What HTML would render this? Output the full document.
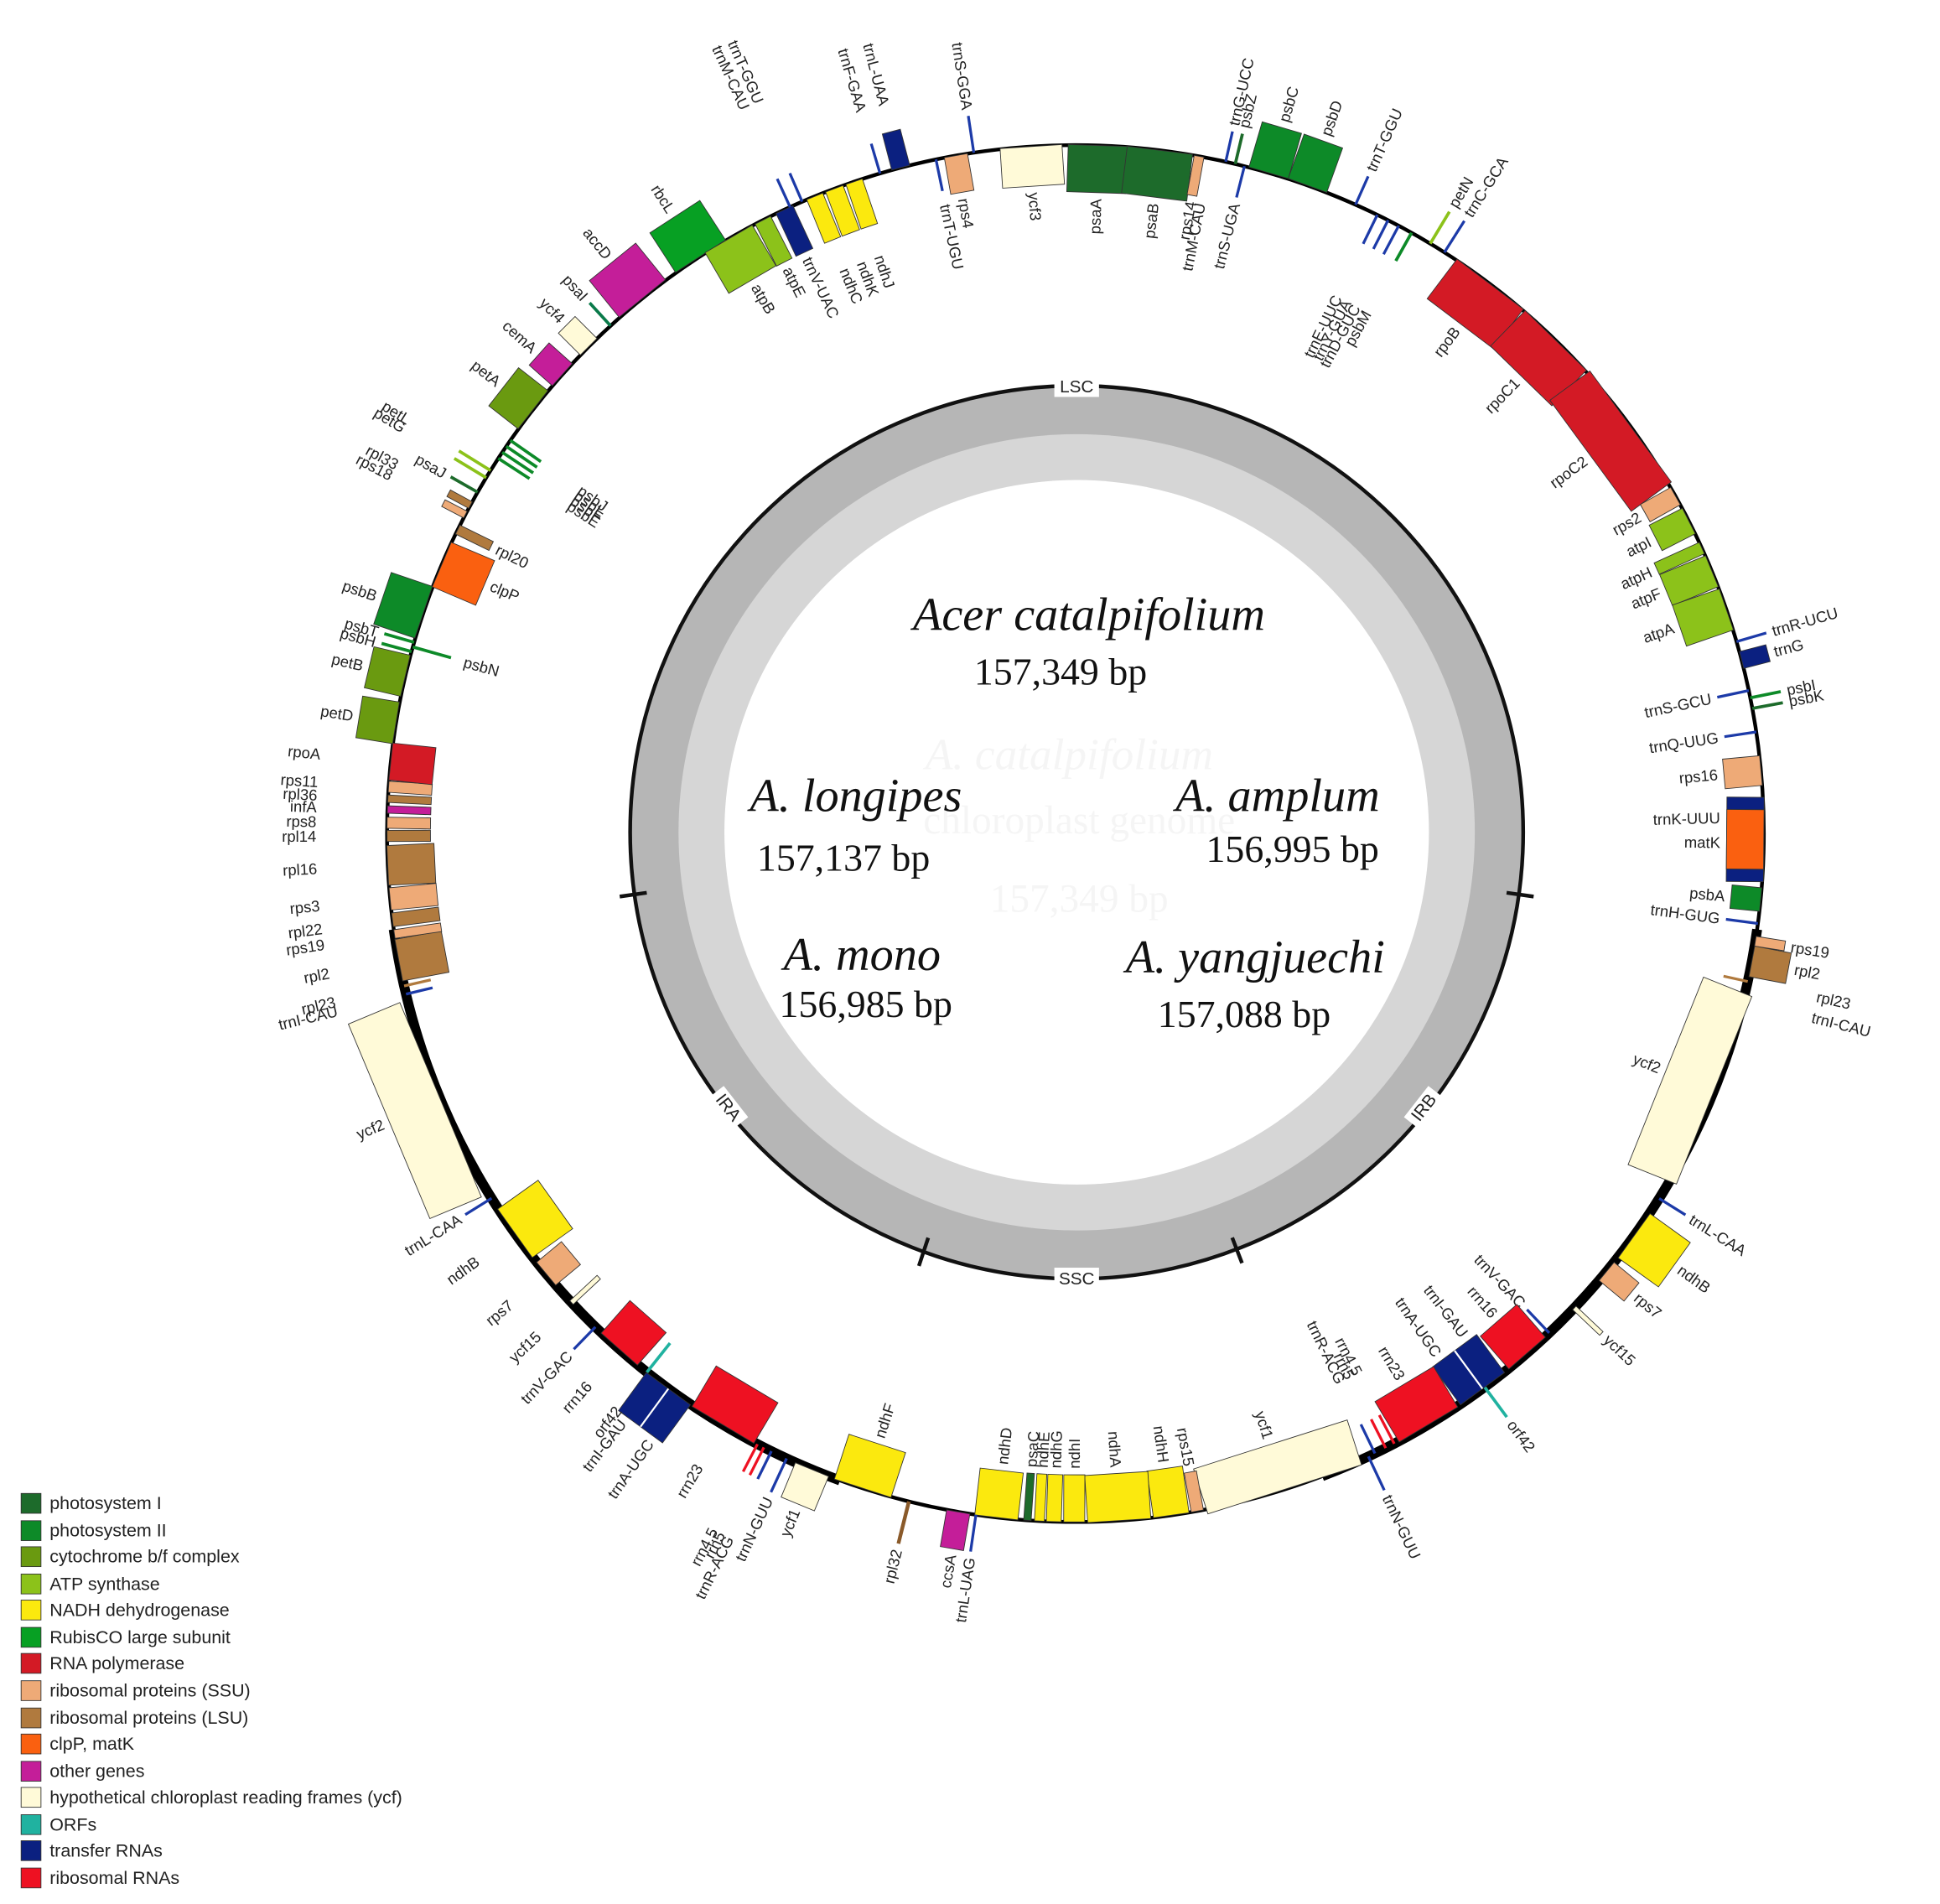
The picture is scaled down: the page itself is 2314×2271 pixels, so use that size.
<!DOCTYPE html>
<html><head><meta charset="utf-8"><style>
html,body{margin:0;padding:0;background:#fff}
svg{display:block}
.t{font-family:"Liberation Sans",sans-serif;font-size:12.5px;fill:#222;dominant-baseline:central}
.s{text-anchor:start}.e{text-anchor:end}
.b{stroke:#333;stroke-width:.6}
.big{font-family:"Liberation Serif",serif;font-style:italic;font-size:38px;fill:#111;text-anchor:middle}
.bp{font-family:"Liberation Serif",serif;font-size:31px;fill:#111;text-anchor:middle}
.lg{font-family:"Liberation Sans",sans-serif;font-size:14.5px;fill:#222;dominant-baseline:central}
</style></head><body>
<svg width="2314" height="2271" viewBox="0 0 1564 1535" xmlns="http://www.w3.org/2000/svg">
<rect width="1564" height="1535" fill="#fff"/>
<circle cx="868" cy="671" r="360" fill="#b6b6b6"/>
<circle cx="868" cy="671" r="321" fill="#d6d6d6"/>
<circle cx="868" cy="671" r="284" fill="#fff"/>
<circle cx="868" cy="671" r="360" fill="none" stroke="#111" stroke-width="3"/>
<g stroke="#111" stroke-width="3">
<line x1="1214.6" y1="719.7" x2="1236.4" y2="722.8"/>
<line x1="993.4" y1="997.8" x2="1001.3" y2="1018.3"/>
<line x1="748.3" y1="997.9" x2="740.8" y2="1020.6"/>
<line x1="521.4" y1="719.7" x2="499.6" y2="722.8"/>
</g>
<rect x="850" y="303" width="36" height="17" fill="#fff"/>
<text x="868" y="312" class="t" style="text-anchor:middle;font-size:14px">LSC</text>
<rect x="850" y="1022" width="36" height="17" fill="#fff"/>
<text x="868" y="1031" class="t" style="text-anchor:middle;font-size:14px">SSC</text>
<g transform="rotate(52 587 893)"><rect x="571" y="885" width="32" height="16" fill="#fff"/><text x="587" y="893" class="t" style="text-anchor:middle;font-size:14px">IRA</text></g>
<g transform="rotate(-52 1148 893)"><rect x="1132" y="885" width="32" height="16" fill="#fff"/><text x="1148" y="893" class="t" style="text-anchor:middle;font-size:14px">IRB</text></g>
<g fill="#f5f5f5" font-family="Liberation Serif,serif" text-anchor="middle">
<text x="862" y="620" font-size="36" font-style="italic">A. catalpifolium</text>
<text x="870" y="672" font-size="32">chloroplast genome</text>
<text x="870" y="735" font-size="32">157,349 bp</text>
</g>
<text x="878" y="508" class="big">Acer catalpifolium</text>
<text x="855" y="552" class="bp">157,349 bp</text>
<text x="690" y="654" class="big">A. longipes</text>
<text x="680" y="702" class="bp">157,137 bp</text>
<text x="1030" y="654" class="big">A. amplum</text>
<text x="1042" y="695" class="bp">156,995 bp</text>
<text x="695" y="782" class="big">A. mono</text>
<text x="698" y="820" class="bp">156,985 bp</text>
<text x="1012" y="784" class="big">A. yangjuechi</text>
<text x="1003" y="828" class="bp">157,088 bp</text>

<circle cx="867" cy="672" r="555" fill="none" stroke="#000" stroke-width="3"/>
<path d="M1416.6 749.3 A555 555 0 0 1 1065.9 1190.1" fill="none" stroke="#000" stroke-width="8"/>
<path d="M677.2 1193.5 A555 555 0 0 1 317.4 749.3" fill="none" stroke="#000" stroke-width="8"/>

<g transform="rotate(1.85 867 672)"><rect class="b" x="843.3" y="117" width="47.5" height="38" fill="#1d6b2b"/><text class="t e" x="867" y="160" transform="rotate(-90 867 160)">psaA</text></g>
<g transform="rotate(7.05 867 672)"><rect class="b" x="840.5" y="117" width="53" height="38" fill="#1d6b2b"/><text class="t e" x="867" y="160" transform="rotate(-90 867 160)">psaB</text></g>
<g transform="rotate(10.35 867 672)"><rect class="b" x="863" y="117" width="8" height="32" fill="#eeaa77"/><text class="t e" x="867" y="154" transform="rotate(-90 867 154)">rps14</text></g>
<g transform="rotate(11.2 867 672)"><text class="t e" x="867" y="154" transform="rotate(-90 867 154)">trnM-CAU</text></g>
<g transform="rotate(14.2 867 672)"><rect x="866" y="117" width="2.2" height="26" fill="#1c3aa8"/><text class="t e" x="867" y="148" transform="rotate(-90 867 148)">trnS-UGA</text></g>
<g transform="rotate(12.6 867 672)"><rect x="866" y="92" width="2.2" height="25" fill="#1c3aa8"/><text class="t s" x="867" y="87" transform="rotate(-90 867 87)">trnG-UCC</text></g>
<g transform="rotate(13.4 867 672)"><rect x="866" y="92" width="2.5" height="25" fill="#1d6b2b"/><text class="t s" x="867" y="87" transform="rotate(-90 867 87)">psbZ</text></g>
<g transform="rotate(16.3 867 672)"><rect class="b" x="850.5" y="79" width="33" height="38" fill="#0d8a28"/><text class="t s" x="867" y="74" transform="rotate(-90 867 74)">psbC</text></g>
<g transform="rotate(19.7 867 672)"><rect class="b" x="850.5" y="79" width="33" height="38" fill="#0d8a28"/><text class="t s" x="867" y="74" transform="rotate(-90 867 74)">psbD</text></g>
<g transform="rotate(24 867 672)"><rect x="866" y="92" width="2.2" height="25" fill="#1c3aa8"/><text class="t s" x="867" y="87" transform="rotate(-90 867 87)">trnT-GGU</text></g>
<g transform="rotate(26 867 672)"><rect x="866" y="117" width="2.2" height="26" fill="#1c3aa8"/><text class="t e" x="867" y="190" transform="rotate(-90 867 190)">trnE-UUC</text></g>
<g transform="rotate(27 867 672)"><rect x="866" y="117" width="2.2" height="26" fill="#1c3aa8"/><text class="t e" x="867" y="190" transform="rotate(-90 867 190)">trnY-GUA</text></g>
<g transform="rotate(28 867 672)"><rect x="866" y="117" width="2.2" height="26" fill="#1c3aa8"/><text class="t e" x="867" y="190" transform="rotate(-90 867 190)">trnD-GUC</text></g>
<g transform="rotate(29.2 867 672)"><rect x="866" y="117" width="2.5" height="26" fill="#0d8a28"/><text class="t e" x="867" y="190" transform="rotate(-90 867 190)">psbM</text></g>
<g transform="rotate(31 867 672)"><rect x="866" y="87" width="2.5" height="30" fill="#8cc21a"/><text class="t s" x="867" y="82" transform="rotate(-90 867 82)">petN</text></g>
<g transform="rotate(32.4 867 672)"><rect x="866" y="87" width="2.2" height="30" fill="#1c3aa8"/><text class="t s" x="867" y="82" transform="rotate(-90 867 82)">trnC-GCA</text></g>
<g transform="rotate(37.05 867 672)"><rect class="b" x="833.5" y="117" width="67" height="40" fill="#d31a25"/><text class="t e" x="867" y="162" transform="rotate(-90 867 162)">rpoB</text></g>
<g transform="rotate(44.25 867 672)"><rect class="b" x="832.5" y="117" width="69" height="40" fill="#d31a25"/><text class="t e" x="867" y="162" transform="rotate(-90 867 162)">rpoC1</text></g>
<g transform="rotate(53.75 867 672)"><rect class="b" x="811.5" y="117" width="111" height="40" fill="#d31a25"/><text class="t e" x="867" y="162" transform="rotate(-90 867 162)">rpoC2</text></g>
<g transform="rotate(60.65 867 672)"><rect class="b" x="859" y="117" width="16" height="28" fill="#eeaa77"/><text class="t e" x="867" y="150" transform="rotate(-90 867 150)">rps2</text></g>
<g transform="rotate(63 867 672)"><rect class="b" x="855.5" y="117" width="23" height="30" fill="#8cc21a"/><text class="t e" x="867" y="152" transform="rotate(-90 867 152)">atpI</text></g>
<g transform="rotate(65.5 867 672)"><rect class="b" x="862" y="117" width="10" height="40" fill="#8cc21a"/><text class="t e" x="867" y="162" transform="rotate(-90 867 162)">atpH</text></g>
<g transform="rotate(67.6 867 672)"><rect class="b" x="853.5" y="117" width="27" height="40" fill="#8cc21a"/><text class="t e" x="867" y="162" transform="rotate(-90 867 162)">atpF</text></g>
<g transform="rotate(71 867 672)"><rect class="b" x="849.5" y="117" width="35" height="40" fill="#8cc21a"/><text class="t e" x="867" y="162" transform="rotate(-90 867 162)">atpA</text></g>
<g transform="rotate(73.8 867 672)"><rect x="866" y="92" width="2.2" height="25" fill="#1c3aa8"/><text class="t s" x="867" y="87" transform="rotate(-90 867 87)">trnR-UCU</text></g>
<g transform="rotate(75.4 867 672)"><rect class="b" x="860" y="95" width="14" height="22" fill="#0b2080"/><text class="t s" x="867" y="90" transform="rotate(-90 867 90)">trnG</text></g>
<g transform="rotate(78 867 672)"><rect x="866" y="117" width="2.2" height="26" fill="#1c3aa8"/><text class="t e" x="867" y="148" transform="rotate(-90 867 148)">trnS-GCU</text></g>
<g transform="rotate(78.6 867 672)"><rect x="866" y="92" width="2.5" height="25" fill="#0d8a28"/><text class="t s" x="867" y="87" transform="rotate(-90 867 87)">psbI</text></g>
<g transform="rotate(79.5 867 672)"><rect x="866" y="92" width="2.5" height="25" fill="#1d6b2b"/><text class="t s" x="867" y="87" transform="rotate(-90 867 87)">psbK</text></g>
<g transform="rotate(81.5 867 672)"><rect x="866" y="117" width="2.2" height="26" fill="#1c3aa8"/><text class="t e" x="867" y="148" transform="rotate(-90 867 148)">trnQ-UUG</text></g>
<g transform="rotate(84.75 867 672)"><rect class="b" x="855" y="117" width="24" height="30" fill="#eeaa77"/><text class="t e" x="867" y="152" transform="rotate(-90 867 152)">rps16</text></g>
<g transform="rotate(90.5 867 672)"><rect class="b" x="833" y="117" width="68" height="30" fill="#0b2080"/><rect class="b" x="843" y="117" width="48" height="30" fill="#fa6010"/></g>
<g transform="rotate(88.6 867 672)"><text class="t e" x="867" y="152" transform="rotate(-90 867 152)">trnK-UUU</text></g>
<g transform="rotate(90.8 867 672)"><text class="t e" x="867" y="152" transform="rotate(-90 867 152)">matK</text></g>
<g transform="rotate(95.5 867 672)"><rect class="b" x="857.5" y="117" width="19" height="24" fill="#0d8a28"/><text class="t e" x="867" y="146" transform="rotate(-90 867 146)">psbA</text></g>
<g transform="rotate(97.5 867 672)"><rect x="866" y="117" width="2.2" height="26" fill="#1c3aa8"/><text class="t e" x="867" y="148" transform="rotate(-90 867 148)">trnH-GUG</text></g>
<g transform="rotate(99 867 672)"><rect class="b" x="863" y="93" width="8" height="24" fill="#eeaa77"/><text class="t s" x="867" y="88" transform="rotate(-90 867 88)">rps19</text></g>
<g transform="rotate(100.7 867 672)"><rect class="b" x="854.5" y="87" width="25" height="30" fill="#b07a3e"/><text class="t s" x="867" y="82" transform="rotate(-90 867 82)">rpl2</text></g>
<g transform="rotate(102.4 867 672)"><rect x="866" y="117" width="2.2" height="20" fill="#b07a3e"/><text class="t s" x="867" y="60" transform="rotate(-90 867 60)">rpl23</text></g>
<g transform="rotate(104 867 672)"><rect x="866" y="117" width="2.2" height="20" fill="#1c3aa8"/><text class="t s" x="867" y="60" transform="rotate(-90 867 60)">trnI-CAU</text></g>
<g transform="rotate(111.9 867 672)"><rect class="b" x="785.5" y="117" width="163" height="42" fill="#fffad8"/><text class="t e" x="867" y="164" transform="rotate(-90 867 164)">ycf2</text></g>
<g transform="rotate(122 867 672)"><rect x="866" y="92" width="2.2" height="25" fill="#1c3aa8"/><text class="t s" x="867" y="87" transform="rotate(-90 867 87)">trnL-CAA</text></g>
<g transform="rotate(125.75 867 672)"><rect class="b" x="845" y="77" width="44" height="40" fill="#fbe90e"/><text class="t s" x="867" y="72" transform="rotate(-90 867 72)">ndhB</text></g>
<g transform="rotate(129.5 867 672)"><rect class="b" x="857.5" y="91" width="19" height="26" fill="#eeaa77"/><text class="t s" x="867" y="86" transform="rotate(-90 867 86)">rps7</text></g>
<g transform="rotate(133.5 867 672)"><rect class="b" x="865.5" y="87" width="4" height="30" fill="#fffad8"/><text class="t s" x="867" y="82" transform="rotate(-90 867 82)">ycf15</text></g>
<g transform="rotate(136.5 867 672)"><rect x="866" y="117" width="2.2" height="26" fill="#1c3aa8"/><text class="t e" x="867" y="148" transform="rotate(-90 867 148)">trnV-GAC</text></g>
<g transform="rotate(139 867 672)"><rect class="b" x="847.5" y="117" width="39" height="35" fill="#ee1122"/><text class="t e" x="867" y="157" transform="rotate(-90 867 157)">rrn16</text></g>
<g transform="rotate(143.5 867 672)"><rect x="866" y="87" width="2.5" height="30" fill="#20b2a0"/><text class="t s" x="867" y="82" transform="rotate(-90 867 82)">orf42</text></g>
<g transform="rotate(143.75 867 672)"><rect class="b" x="845" y="117" width="44" height="38" fill="#0b2080"/><line x1="867" y1="117" x2="867" y2="155" stroke="#fff" stroke-width="1.5"/></g>
<g transform="rotate(142.2 867 672)"><text class="t e" x="867" y="160" transform="rotate(-90 867 160)">trnI-GAU</text></g>
<g transform="rotate(145.2 867 672)"><text class="t e" x="867" y="160" transform="rotate(-90 867 160)">trnA-UGC</text></g>
<g transform="rotate(149.15 867 672)"><rect class="b" x="839.5" y="117" width="55" height="38" fill="#ee1122"/><text class="t e" x="867" y="160" transform="rotate(-90 867 160)">rrn23</text></g>
<g transform="rotate(152.4 867 672)"><rect x="866" y="117" width="2.2" height="26" fill="#ee1122"/><text class="t e" x="867" y="180" transform="rotate(-90 867 180)">rrn4.5</text></g>
<g transform="rotate(153.2 867 672)"><rect x="866" y="117" width="2.2" height="26" fill="#ee1122"/><text class="t e" x="867" y="180" transform="rotate(-90 867 180)">rrn5</text></g>
<g transform="rotate(154.2 867 672)"><rect x="866" y="117" width="2.2" height="26" fill="#1c3aa8"/><text class="t e" x="867" y="180" transform="rotate(-90 867 180)">trnR-ACG</text></g>
<g transform="rotate(154.8 867 672)"><rect x="866" y="87" width="2.2" height="30" fill="#1c3aa8"/><text class="t s" x="867" y="82" transform="rotate(-90 867 82)">trnN-GUU</text></g>
<g transform="rotate(162.3 867 672)"><rect class="b" x="802" y="117" width="130" height="38" fill="#fffad8"/><text class="t e" x="867" y="160" transform="rotate(-90 867 160)">ycf1</text></g>
<g transform="rotate(169.8 867 672)"><rect class="b" x="862" y="117" width="10" height="32" fill="#eeaa77"/><text class="t e" x="867" y="154" transform="rotate(-90 867 154)">rps15</text></g>
<g transform="rotate(172 867 672)"><rect class="b" x="852.5" y="117" width="29" height="38" fill="#fbe90e"/><text class="t e" x="867" y="160" transform="rotate(-90 867 160)">ndhH</text></g>
<g transform="rotate(176.35 867 672)"><rect class="b" x="841.5" y="117" width="51" height="38" fill="#fbe90e"/><text class="t e" x="867" y="160" transform="rotate(-90 867 160)">ndhA</text></g>
<g transform="rotate(180.1 867 672)"><rect class="b" x="858.5" y="117" width="17" height="38" fill="#fbe90e"/><text class="t s" x="867" y="160" transform="rotate(90 867 160)">ndhI</text></g>

<g transform="rotate(181.8 867 672)"><rect class="b" x="861" y="117" width="12" height="38" fill="#fbe90e"/><text class="t s" x="867" y="160" transform="rotate(90 867 160)">ndhG</text></g>
<g transform="rotate(183 867 672)"><rect class="b" x="863" y="117" width="8" height="38" fill="#fbe90e"/><text class="t s" x="867" y="160" transform="rotate(90 867 160)">ndhE</text></g>
<g transform="rotate(184 867 672)"><rect class="b" x="864" y="117" width="6" height="38" fill="#1d6b2b"/><text class="t s" x="867" y="160" transform="rotate(90 867 160)">psaC</text></g>
<g transform="rotate(186.6 867 672)"><rect class="b" x="849.5" y="117" width="35" height="38" fill="#fbe90e"/><text class="t s" x="867" y="160" transform="rotate(90 867 160)">ndhD</text></g>
<g transform="rotate(188.3 867 672)"><rect x="866" y="87" width="2.2" height="30" fill="#1c3aa8"/><text class="t e" x="867" y="82" transform="rotate(90 867 82)">trnL-UAG</text></g>
<g transform="rotate(189.8 867 672)"><rect class="b" x="857.5" y="87" width="19" height="30" fill="#c41e99"/><text class="t e" x="867" y="82" transform="rotate(90 867 82)">ccsA</text></g>
<g transform="rotate(194 867 672)"><rect x="865.5" y="82" width="3" height="35" fill="#8a5a2a"/><text class="t e" x="867" y="77" transform="rotate(90 867 77)">rpl32</text></g>
<g transform="rotate(198 867 672)"><rect class="b" x="843" y="117" width="48" height="38" fill="#fbe90e"/><text class="t s" x="867" y="160" transform="rotate(90 867 160)">ndhF</text></g>
<g transform="rotate(202.5 867 672)"><rect class="b" x="852.5" y="87" width="29" height="30" fill="#fffad8"/><text class="t e" x="867" y="82" transform="rotate(90 867 82)">ycf1</text></g>
<g transform="rotate(204.8 867 672)"><rect x="866" y="87" width="2.2" height="30" fill="#1c3aa8"/><text class="t e" x="867" y="82" transform="rotate(90 867 82)">trnN-GUU</text></g>
<g transform="rotate(206.2 867 672)"><rect x="866" y="92" width="2.2" height="25" fill="#1c3aa8"/><text class="t e" x="867" y="40" transform="rotate(90 867 40)">trnR-ACG</text></g>
<g transform="rotate(206.9 867 672)"><rect x="866" y="92" width="2.2" height="25" fill="#ee1122"/><text class="t e" x="867" y="40" transform="rotate(90 867 40)">rrn5</text></g>
<g transform="rotate(207.5 867 672)"><rect x="866" y="92" width="2.2" height="25" fill="#ee1122"/><text class="t e" x="867" y="40" transform="rotate(90 867 40)">rrn4.5</text></g>
<g transform="rotate(210.8 867 672)"><rect class="b" x="838" y="117" width="58" height="38" fill="#ee1122"/><text class="t e" x="867" y="79" transform="rotate(90 867 79)">rrn23</text></g>
<g transform="rotate(216.25 867 672)"><rect class="b" x="845" y="79" width="44" height="38" fill="#0b2080"/><line x1="867" y1="79" x2="867" y2="117" stroke="#fff" stroke-width="1.5"/></g>
<g transform="rotate(215 867 672)"><text class="t e" x="867" y="74" transform="rotate(90 867 74)">trnA-UGC</text></g>
<g transform="rotate(217.6 867 672)"><text class="t e" x="867" y="74" transform="rotate(90 867 74)">trnI-GAU</text></g>
<g transform="rotate(218.5 867 672)"><rect x="865.8" y="117" width="2.5" height="30" fill="#20b2a0"/><text class="t e" x="867" y="80" transform="rotate(90 867 80)">orf42</text></g>
<g transform="rotate(221.5 867 672)"><rect class="b" x="847.5" y="117" width="39" height="35" fill="#ee1122"/><text class="t e" x="867" y="80" transform="rotate(90 867 80)">rrn16</text></g>
<g transform="rotate(224.2 867 672)"><rect x="866" y="92" width="2.2" height="25" fill="#1c3aa8"/><text class="t e" x="867" y="87" transform="rotate(90 867 87)">trnV-GAC</text></g>
<g transform="rotate(227 867 672)"><rect class="b" x="865.5" y="117" width="4" height="30" fill="#fffad8"/><text class="t e" x="867" y="80" transform="rotate(90 867 80)">ycf15</text></g>
<g transform="rotate(230.25 867 672)"><rect class="b" x="855" y="117" width="24" height="26" fill="#eeaa77"/><text class="t e" x="867" y="80" transform="rotate(90 867 80)">rps7</text></g>
<g transform="rotate(234.5 867 672)"><rect class="b" x="843" y="117" width="48" height="40" fill="#fbe90e"/><text class="t e" x="867" y="80" transform="rotate(90 867 80)">ndhB</text></g>
<g transform="rotate(238 867 672)"><rect x="866" y="92" width="2.2" height="25" fill="#1c3aa8"/><text class="t e" x="867" y="87" transform="rotate(90 867 87)">trnL-CAA</text></g>
<g transform="rotate(247.25 867 672)"><rect class="b" x="782" y="72" width="170" height="45" fill="#fffad8"/><text class="t e" x="867" y="67" transform="rotate(90 867 67)">ycf2</text></g>
<g transform="rotate(256.5 867 672)"><rect x="866" y="117" width="2.2" height="22" fill="#1c3aa8"/><text class="t e" x="867" y="60" transform="rotate(90 867 60)">trnI-CAU</text></g>
<g transform="rotate(257.2 867 672)"><rect x="866" y="117" width="2.2" height="22" fill="#b07a3e"/><text class="t e" x="867" y="60" transform="rotate(90 867 60)">rpl23</text></g>
<g transform="rotate(259.4 867 672)"><rect class="b" x="850" y="117" width="34" height="38" fill="#b07a3e"/><text class="t e" x="867" y="60" transform="rotate(90 867 60)">rpl2</text></g>
<g transform="rotate(261.6 867 672)"><rect class="b" x="863.5" y="117" width="7" height="38" fill="#eeaa77"/><text class="t e" x="867" y="60" transform="rotate(90 867 60)">rps19</text></g>
<g transform="rotate(262.8 867 672)"><rect class="b" x="861.5" y="117" width="11" height="38" fill="#b07a3e"/><text class="t e" x="867" y="60" transform="rotate(90 867 60)">rpl22</text></g>
<g transform="rotate(264.55 867 672)"><rect class="b" x="858" y="117" width="18" height="38" fill="#eeaa77"/><text class="t e" x="867" y="60" transform="rotate(90 867 60)">rps3</text></g>
<g transform="rotate(267.35 867 672)"><rect class="b" x="851" y="117" width="32" height="38" fill="#b07a3e"/><text class="t e" x="867" y="60" transform="rotate(90 867 60)">rpl16</text></g>
<g transform="rotate(269.8 867 672)"><rect class="b" x="862.5" y="117" width="9" height="35" fill="#b07a3e"/><text class="t e" x="867" y="60" transform="rotate(90 867 60)">rpl14</text></g>
<g transform="rotate(270.9 867 672)"><rect class="b" x="862.5" y="117" width="9" height="35" fill="#eeaa77"/><text class="t e" x="867" y="60" transform="rotate(90 867 60)">rps8</text></g>
<g transform="rotate(272 867 672)"><rect class="b" x="864" y="117" width="6" height="35" fill="#c41e99"/><text class="t e" x="867" y="60" transform="rotate(90 867 60)">infA</text></g>
<g transform="rotate(272.9 867 672)"><rect class="b" x="864" y="117" width="6" height="35" fill="#b07a3e"/><text class="t e" x="867" y="60" transform="rotate(90 867 60)">rpl36</text></g>
<g transform="rotate(273.9 867 672)"><rect class="b" x="862.5" y="117" width="9" height="35" fill="#eeaa77"/><text class="t e" x="867" y="60" transform="rotate(90 867 60)">rps11</text></g>
<g transform="rotate(276 867 672)"><rect class="b" x="852" y="117" width="30" height="35" fill="#d31a25"/><text class="t e" x="867" y="60" transform="rotate(90 867 60)">rpoA</text></g>
<g transform="rotate(279.25 867 672)"><rect class="b" x="850" y="87" width="34" height="30" fill="#6a9a10"/><text class="t e" x="867" y="82" transform="rotate(90 867 82)">petD</text></g>
<g transform="rotate(283.25 867 672)"><rect class="b" x="850" y="87" width="34" height="30" fill="#6a9a10"/><text class="t e" x="867" y="82" transform="rotate(90 867 82)">petB</text></g>
<g transform="rotate(285.3 867 672)"><rect x="866" y="92" width="2.5" height="25" fill="#0d8a28"/><text class="t e" x="867" y="87" transform="rotate(90 867 87)">psbH</text></g>
<g transform="rotate(286.1 867 672)"><rect x="866" y="92" width="2.5" height="25" fill="#0d8a28"/><text class="t e" x="867" y="87" transform="rotate(90 867 87)">psbT</text></g>
<g transform="rotate(285.7 867 672)"><rect x="866" y="117" width="2.5" height="32" fill="#0d8a28"/><text class="t s" x="867" y="160" transform="rotate(90 867 160)">psbN</text></g>
<g transform="rotate(288.75 867 672)"><rect class="b" x="845" y="82" width="44" height="35" fill="#0d8a28"/><text class="t e" x="867" y="77" transform="rotate(90 867 77)">psbB</text></g>
<g transform="rotate(293 867 672)"><rect class="b" x="847.5" y="117" width="39" height="38" fill="#fa6010"/><text class="t s" x="867" y="160" transform="rotate(90 867 160)">clpP</text></g>
<g transform="rotate(296.2 867 672)"><rect class="b" x="863" y="117" width="8" height="30" fill="#b07a3e"/><text class="t s" x="867" y="152" transform="rotate(90 867 152)">rpl20</text></g>
<g transform="rotate(297.6 867 672)"><rect class="b" x="864" y="97" width="6" height="20" fill="#eeaa77"/><text class="t e" x="867" y="50" transform="rotate(90 867 50)">rps18</text></g>
<g transform="rotate(298.5 867 672)"><rect class="b" x="864" y="97" width="6" height="20" fill="#b07a3e"/><text class="t e" x="867" y="50" transform="rotate(90 867 50)">rpl33</text></g>
<g transform="rotate(299.7 867 672)"><rect x="866" y="92" width="2.5" height="25" fill="#1d6b2b"/><text class="t e" x="867" y="87" transform="rotate(90 867 87)">psaJ</text></g>
<g transform="rotate(301.1 867 672)"><rect x="866" y="87" width="2.5" height="30" fill="#8cc21a"/><text class="t e" x="867" y="40" transform="rotate(90 867 40)">petG</text></g>
<g transform="rotate(301.8 867 672)"><rect x="866" y="87" width="2.5" height="30" fill="#8cc21a"/><text class="t e" x="867" y="40" transform="rotate(90 867 40)">petL</text></g>
<g transform="rotate(303 867 672)"><rect x="866" y="117" width="2.5" height="30" fill="#0d8a28"/><text class="t s" x="867" y="185" transform="rotate(90 867 185)">psbE</text></g>
<g transform="rotate(303.6 867 672)"><rect x="866" y="117" width="2.5" height="30" fill="#0d8a28"/><text class="t s" x="867" y="185" transform="rotate(90 867 185)">psbF</text></g>
<g transform="rotate(304.2 867 672)"><rect x="866" y="117" width="2.5" height="30" fill="#0d8a28"/><text class="t s" x="867" y="185" transform="rotate(90 867 185)">psbL</text></g>
<g transform="rotate(304.8 867 672)"><rect x="866" y="117" width="2.5" height="30" fill="#0d8a28"/><text class="t s" x="867" y="185" transform="rotate(90 867 185)">psbJ</text></g>
<g transform="rotate(308 867 672)"><rect class="b" x="847.5" y="87" width="39" height="30" fill="#6a9a10"/><text class="t e" x="867" y="82" transform="rotate(90 867 82)">petA</text></g>
<g transform="rotate(311.8 867 672)"><rect class="b" x="855" y="92" width="24" height="25" fill="#c41e99"/><text class="t e" x="867" y="87" transform="rotate(90 867 87)">cemA</text></g>
<g transform="rotate(315 867 672)"><rect class="b" x="857.5" y="92" width="19" height="25" fill="#fffad8"/><text class="t e" x="867" y="87" transform="rotate(90 867 87)">ycf4</text></g>
<g transform="rotate(317.5 867 672)"><rect x="866" y="92" width="2.5" height="25" fill="#0a7a4a"/><text class="t e" x="867" y="87" transform="rotate(90 867 87)">psaI</text></g>
<g transform="rotate(321 867 672)"><rect class="b" x="843" y="79" width="48" height="38" fill="#c41e99"/><text class="t e" x="867" y="74" transform="rotate(90 867 74)">accD</text></g>
<g transform="rotate(327 867 672)"><rect class="b" x="843" y="79" width="48" height="38" fill="#07a023"/><text class="t e" x="867" y="74" transform="rotate(90 867 74)">rbcL</text></g>
<g transform="rotate(329.75 867 672)"><rect class="b" x="845" y="117" width="44" height="38" fill="#8cc21a"/><text class="t s" x="867" y="160" transform="rotate(90 867 160)">atpB</text></g>
<g transform="rotate(333 867 672)"><rect class="b" x="860" y="117" width="14" height="38" fill="#8cc21a"/><text class="t s" x="867" y="160" transform="rotate(90 867 160)">atpE</text></g>
<g transform="rotate(335 867 672)"><rect class="b" x="859.5" y="117" width="15" height="38" fill="#0b2080"/><text class="t s" x="867" y="160" transform="rotate(90 867 160)">trnV-UAC</text></g>
<g transform="rotate(335.5 867 672)"><rect x="866" y="92" width="2.2" height="25" fill="#1c3aa8"/><text class="t e" x="867" y="30" transform="rotate(90 867 30)">trnM-CAU</text></g>
<g transform="rotate(336.6 867 672)"><rect x="866" y="92" width="2.2" height="25" fill="#1c3aa8"/><text class="t e" x="867" y="30" transform="rotate(90 867 30)">trnT-GGU</text></g>
<g transform="rotate(337.75 867 672)"><rect class="b" x="860" y="117" width="14" height="38" fill="#fbe90e"/><text class="t s" x="867" y="180" transform="rotate(90 867 180)">ndhC</text></g>
<g transform="rotate(339.5 867 672)"><rect class="b" x="859.5" y="117" width="15" height="38" fill="#fbe90e"/><text class="t s" x="867" y="180" transform="rotate(90 867 180)">ndhK</text></g>
<g transform="rotate(341.25 867 672)"><rect class="b" x="860" y="117" width="14" height="38" fill="#fbe90e"/><text class="t s" x="867" y="180" transform="rotate(90 867 180)">ndhJ</text></g>
<g transform="rotate(343.5 867 672)"><rect x="866" y="92" width="2.2" height="25" fill="#1c3aa8"/><text class="t e" x="867" y="65" transform="rotate(90 867 65)">trnF-GAA</text></g>
<g transform="rotate(345.3 867 672)"><rect class="b" x="859.5" y="87" width="15" height="30" fill="#0b2080"/><text class="t e" x="867" y="65" transform="rotate(90 867 65)">trnL-UAA</text></g>
<g transform="rotate(348.3 867 672)"><rect x="866" y="117" width="2.2" height="26" fill="#1c3aa8"/><text class="t s" x="867" y="154" transform="rotate(90 867 154)">trnT-UGU</text></g>
<g transform="rotate(350 867 672)"><rect class="b" x="857.5" y="117" width="19" height="30" fill="#eeaa77"/><text class="t s" x="867" y="152" transform="rotate(90 867 152)">rps4</text></g>
<g transform="rotate(351.5 867 672)"><rect x="866" y="87" width="2.2" height="30" fill="#1c3aa8"/><text class="t e" x="867" y="82" transform="rotate(90 867 82)">trnS-GGA</text></g>
<g transform="rotate(356.3 867 672)"><rect class="b" x="842" y="117" width="50" height="32" fill="#fffad8"/><text class="t s" x="867" y="154" transform="rotate(90 867 154)">ycf3</text></g>

<g stroke="#333" stroke-width=".6">
<rect x="17" y="1204" width="16" height="16" fill="#1d6b2b"/>
<rect x="17" y="1226" width="16" height="16" fill="#0d8a28"/>
<rect x="17" y="1247" width="16" height="16" fill="#6a9a10"/>
<rect x="17" y="1269" width="16" height="16" fill="#8cc21a"/>
<rect x="17" y="1290" width="16" height="16" fill="#fbe90e"/>
<rect x="17" y="1312" width="16" height="16" fill="#07a023"/>
<rect x="17" y="1333" width="16" height="16" fill="#d31a25"/>
<rect x="17" y="1355" width="16" height="16" fill="#eeaa77"/>
<rect x="17" y="1377" width="16" height="16" fill="#b07a3e"/>
<rect x="17" y="1398" width="16" height="16" fill="#fa6010"/>
<rect x="17" y="1420" width="16" height="16" fill="#c41e99"/>
<rect x="17" y="1441" width="16" height="16" fill="#fffad8"/>
<rect x="17" y="1463" width="16" height="16" fill="#20b2a0"/>
<rect x="17" y="1484" width="16" height="16" fill="#0b2080"/>
<rect x="17" y="1506" width="16" height="16" fill="#ee1122"/>
</g>
<text class="lg" x="40" y="1212">photosystem I</text>
<text class="lg" x="40" y="1234">photosystem II</text>
<text class="lg" x="40" y="1255">cytochrome b/f complex</text>
<text class="lg" x="40" y="1277">ATP synthase</text>
<text class="lg" x="40" y="1298">NADH dehydrogenase</text>
<text class="lg" x="40" y="1320">RubisCO large subunit</text>
<text class="lg" x="40" y="1341">RNA polymerase</text>
<text class="lg" x="40" y="1363">ribosomal proteins (SSU)</text>
<text class="lg" x="40" y="1385">ribosomal proteins (LSU)</text>
<text class="lg" x="40" y="1406">clpP, matK</text>
<text class="lg" x="40" y="1428">other genes</text>
<text class="lg" x="40" y="1449">hypothetical chloroplast reading frames (ycf)</text>
<text class="lg" x="40" y="1471">ORFs</text>
<text class="lg" x="40" y="1492">transfer RNAs</text>
<text class="lg" x="40" y="1514">ribosomal RNAs</text>
</svg>
</body></html>
